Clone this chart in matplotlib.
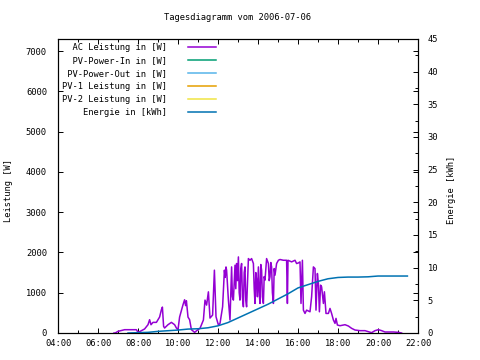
import matplotlib
matplotlib.use("Agg")
import matplotlib.pyplot as plt
from matplotlib.ticker import MultipleLocator, FuncFormatter

# AC power (W), time in hours of the day
ac_hours = [6.80, 6.86, 7.00, 7.33, 7.92, 8.00, 8.08, 8.33, 8.50, 8.58, 8.65, 8.75,
            8.92, 9.08, 9.17, 9.22, 9.28, 9.33, 9.50, 9.67, 9.83, 9.92, 10.00, 10.08,
            10.25, 10.33, 10.38, 10.42, 10.50, 10.58, 10.67, 10.83, 11.00, 11.10, 11.27,
            11.35, 11.43, 11.52, 11.60, 11.73, 11.82, 11.90, 12.02, 12.10, 12.23, 12.32,
            12.36, 12.40, 12.43, 12.52, 12.60, 12.68, 12.72, 12.77, 12.85, 12.89, 12.93,
            12.97, 13.02, 13.06, 13.10, 13.14, 13.18, 13.22, 13.27, 13.31, 13.35, 13.39,
            13.43, 13.52, 13.60, 13.68, 13.77, 13.81, 13.85, 13.89, 13.93, 13.97, 14.02,
            14.06, 14.10, 14.14, 14.18, 14.22, 14.27, 14.31, 14.35, 14.43, 14.52, 14.56,
            14.60, 14.64, 14.68, 14.72, 14.77, 14.81, 14.85, 14.93, 15.02, 15.10, 15.27,
            15.43, 15.47, 15.50, 15.68, 15.85, 15.93, 16.02, 16.10, 16.15, 16.22, 16.27,
            16.35, 16.43, 16.60, 16.68, 16.77, 16.85, 16.90, 16.97, 17.02, 17.07, 17.13,
            17.18, 17.27, 17.32, 17.40, 17.52, 17.60, 17.68, 17.77, 17.85, 17.90, 17.97,
            18.10, 18.35, 18.52, 18.68, 18.85, 19.10, 19.35, 19.52, 19.68, 19.85, 20.02,
            20.18, 20.35, 20.77, 21.02, 21.18]
ac_watts = [0, 0, 41, 82, 82, 16, 33, 100, 206, 330, 206, 264,
            264, 396, 578, 643, 165, 124, 206, 264, 206, 124, 83, 396,
            701, 825, 680, 800, 396, 330, 83, 16, 83, 116, 322,
            817, 693, 1022, 371, 445, 1560, 404, 198, 239, 651, 1560,
            1380, 1640, 1560, 817, 322, 1641, 900, 817, 1683, 1100, 1725,
            1300, 1889, 1000, 817, 1600, 1725, 900, 651, 1500, 1641, 800,
            651, 1848, 1806, 1848, 1725, 1100, 734, 1500, 1312, 900, 1641,
            1000, 734, 1700, 1560, 900, 734, 1400, 1312, 1848, 1725, 1300,
            1395, 1750, 1641, 1000, 734, 1600, 1436, 1725, 1806, 1825, 1806,
            1806, 734, 1806, 1766, 1806, 1725, 1740, 1766, 734, 1806, 568,
            486, 568, 527, 899, 1641, 1600, 568, 1477, 1230, 527, 1188,
            1147, 734, 1023, 486, 486, 610, 486, 322, 239, 363, 198,
            181, 206, 173, 116, 74, 58, 58, 33, 8, 58, 83,
            58, 25, 25, 16, 0]

# cumulative energy (kWh)
en_hours = [7.5, 8.0, 8.5, 9.0, 9.5, 10.0, 10.5, 11.0, 11.5, 12.0, 12.5, 13.0, 13.5,
            14.0, 14.5, 15.0, 15.5, 16.0, 16.5, 17.0, 17.5, 18.0, 18.5, 19.0, 19.5,
            20.0, 20.5, 21.0, 21.47]
en_kwh = [0.0, 0.05, 0.1, 0.25, 0.35, 0.45, 0.6, 0.65, 0.8, 1.1, 1.6, 2.3, 3.0,
          3.7, 4.4, 5.2, 6.0, 6.9, 7.4, 7.9, 8.3, 8.5, 8.56, 8.56, 8.6,
          8.72, 8.72, 8.72, 8.72]

labels = ["AC Leistung in [W]", "PV-Power-In in [W]", "PV-Power-Out in [W]",
          "PV-1 Leistung in [W]", "PV-2 Leistung in [W]", "Energie in [kWh]"]
colors = ["#9400d3", "#009e73", "#56b4e9", "#e69f00", "#f0e442", "#0072b2"]

font = "DejaVu Sans Mono"
fs = 6.3

fig = plt.figure(figsize=(4.8, 3.6), dpi=100)
ax = fig.add_axes([58 / 480, 1 - 333 / 360, 360 / 480, 294 / 360])
ax2 = ax.twinx()

width = max(len(s) for s in labels)
pad = [s.rjust(width) for s in labels]

h_ac, = ax.plot(ac_hours, ac_watts, color=colors[0], lw=1.1, label=pad[0])
handles = [h_ac]
for lab, c in zip(pad[1:5], colors[1:5]):
    h, = ax.plot([], [], color=c, lw=1.1, label=lab)
    handles.append(h)
h_en, = ax2.plot(en_hours, en_kwh, color=colors[5], lw=1.1, label=pad[5])
handles.append(h_en)

ax.set_xlim(4, 22)
ax.set_ylim(0, 7300)
ax2.set_ylim(0, 45)

ax.xaxis.set_major_locator(MultipleLocator(2))
ax.xaxis.set_minor_locator(MultipleLocator(1))
ax.xaxis.set_major_formatter(FuncFormatter(lambda v, p: "%02d:00" % int(round(v))))
ax.yaxis.set_major_locator(MultipleLocator(1000))
ax2.yaxis.set_major_locator(MultipleLocator(5))
ax2.yaxis.set_minor_locator(MultipleLocator(2.5))

ax.tick_params(axis="x", which="both", direction="in", top=True, bottom=True,
               width=0.7, pad=4)
ax.tick_params(axis="x", which="major", length=3.5)
ax.tick_params(axis="x", which="minor", length=2)
ax.tick_params(axis="y", which="major", direction="in", left=True, right=True,
               labelright=False, length=3.5, width=0.7, pad=8)
ax2.tick_params(axis="y", which="major", direction="in", length=3.5, width=0.7, pad=7)
ax2.tick_params(axis="y", which="minor", direction="in", length=2, width=0.7)

for a in (ax, ax2):
    for sp in a.spines.values():
        sp.set_linewidth(0.8)
    for t in a.get_xticklabels() + a.get_yticklabels():
        t.set_fontfamily(font)
        t.set_fontsize(fs)

fig.text(238 / 480, 1 - 18 / 360, "Tagesdiagramm vom 2006-07-06", ha="center",
         va="center", family=font, fontsize=fs)
fig.text(9 / 480, 1 - 190 / 360, "Leistung [W]", rotation=90, ha="center",
         va="center", family=font, fontsize=fs)
fig.text(452 / 480, 1 - 190 / 360, "Energie [kWh]", rotation=90, ha="center",
         va="center", family=font, fontsize=fs)

leg = ax2.legend(handles=handles, loc="upper left", bbox_to_anchor=(-0.005, 1.006),
                 markerfirst=False, frameon=False, handlelength=3.2,
                 handletextpad=2.4, labelspacing=0.45, borderaxespad=0.3,
                 prop={"family": font, "size": fs})

fig.savefig("out.png", dpi=100)
